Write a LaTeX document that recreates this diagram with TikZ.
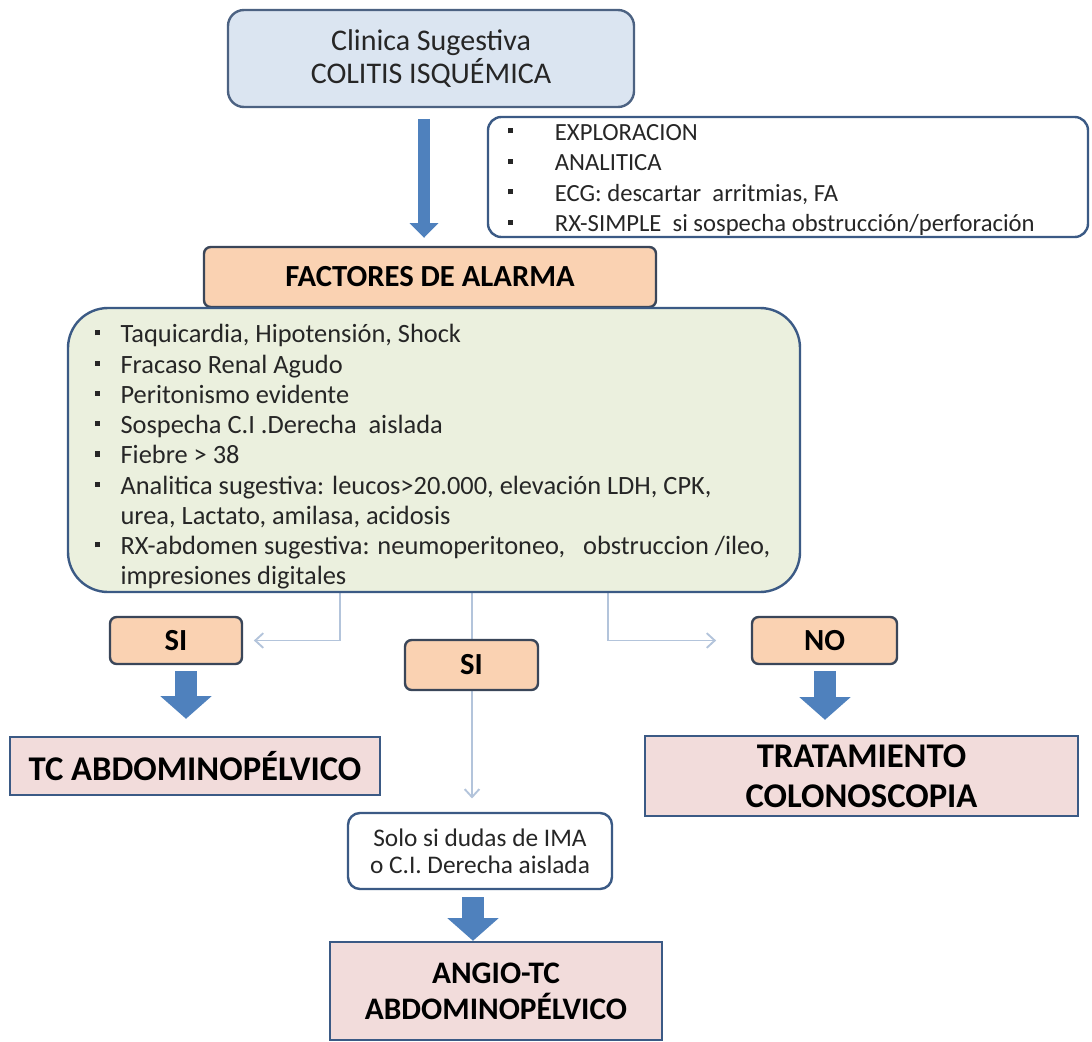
\documentclass[tikz,border=0pt]{standalone}
\usepackage{fontspec}
\setmainfont{Carlito}
\usetikzlibrary{arrows.meta}
\definecolor{titlefill}{HTML}{DBE5F1}
\definecolor{titleborder}{HTML}{4C6282}
\definecolor{orangefill}{HTML}{FAD2B2}
\definecolor{orangeborder}{HTML}{3A4659}
\definecolor{greenfill}{HTML}{EBF0DE}
\definecolor{pinkfill}{HTML}{F2DCDB}
\definecolor{darkborder}{HTML}{3B5A85}
\definecolor{bluearrow}{HTML}{4F81BD}
\definecolor{thinline}{HTML}{B3C4DB}
\definecolor{textgray}{HTML}{262626}
\pgfdeclarelayer{paper}
\pgfdeclarelayer{bg}
\pgfsetlayers{paper,bg,main}
\newcommand{\sqb}{\raisebox{0.28em}{\rule{3.8pt}{3.8pt}}}
\newcommand{\bitem}[2]{\makebox[#1][l]{\sqb}#2}
\tikzset{
  roundbox/.style={draw=darkborder, line width=1.8pt, rounded corners=#1, inner sep=0pt},
  orangebox/.style={draw=orangeborder, fill=orangefill, line width=1.8pt, rounded corners=5pt, inner sep=0pt,
     font=\fontsize{23pt}{27pt}\selectfont\bfseries, text=black},
  pinkbox/.style={draw=darkborder, fill=pinkfill, line width=1.8pt, inner sep=0pt, align=center,
     font=\fontsize{26pt}{30pt}\selectfont\bfseries, text=black},
  thinconn/.style={draw=thinline, line width=1.4pt, -{Straight Barb[length=6pt,width=11pt,line width=1.4pt]}},
  bigarrow/.style={draw=bluearrow, line width=16.5pt, -{Triangle[width=37.5pt,length=17pt]}},
  slimarrow/.style={draw=bluearrow, line width=9pt, -{Triangle[width=21pt,length=11pt]}},
  txt/.style={inner sep=0pt, align=left, text=textgray}
}
\begin{document}
\begin{tikzpicture}[x=0.75pt,y=-0.75pt]
\useasboundingbox (0,0) rectangle (1092,1042);
\begin{pgfonlayer}{paper}
\fill[white] (0,0) rectangle (1092,1042);
\end{pgfonlayer}

% title
\node[roundbox=12pt, draw=titleborder, fill=titlefill, minimum width=304.5pt, minimum height=72.75pt,
  align=center, text=textgray, font=\fontsize{22.5pt}{25pt}\selectfont] (top) at (431,58.5)
  {Clinica Sugestiva\\COLITIS ISQUÉMICA};

% right info box
\node[roundbox=10pt, draw=darkborder, fill=white, minimum width=450pt, minimum height=90pt] (info) at (788,177) {};
\node[txt, anchor=west, font=\fontsize{18.5pt}{22.9pt}\selectfont] (infotext) at (508,180)
  {\bitem{35pt}{EXPLORACION}\\
   \bitem{35pt}{ANALITICA}\\
   \bitem{35pt}{ECG: descartar\ \ arritmias, FA}\\
   \bitem{35pt}{RX-SIMPLE\ \ si sospecha obstrucción/perforación}};

% factores
\node[orangebox, minimum width=339pt, minimum height=45pt] (fact) at (430,277) {FACTORES DE ALARMA};

% green box
\node[roundbox=30pt, fill=greenfill, minimum width=549pt, minimum height=213pt] (green) at (434,450) {};
\node[txt, anchor=west, font=\fontsize{19.8pt}{22.7pt}\selectfont] (greentext) at (95,457)
  {\bitem{19pt}{Taquicardia, Hipotensión, Shock}\\
   \bitem{19pt}{Fracaso Renal Agudo}\\
   \bitem{19pt}{Peritonismo\ evidente}\\
   \bitem{19pt}{Sospecha C.I .Derecha\ \ aislada}\\
   \bitem{19pt}{Fiebre > 38}\\
   \bitem{19pt}{Analitica sugestiva: leucos>20.000, elevación LDH, CPK,}\\
   \makebox[19pt]{}urea, Lactato, amilasa, acidosis\\
   \bitem{19pt}{RX-abdomen sugestiva: neumoperitoneo,\ \ \ obstruccion /ileo,}\\
   \makebox[19pt]{}impresiones digitales};

% decision boxes
\node[orangebox, font=\fontsize{23pt}{27pt}\selectfont\bfseries, minimum width=99pt, minimum height=35.25pt] (si1) at (176,640.5) {SI};
\node[orangebox, font=\fontsize{23pt}{27pt}\selectfont\bfseries, minimum width=99.75pt, minimum height=37.5pt] (si2) at (471.5,665) {SI};
\node[orangebox, font=\fontsize{23pt}{27pt}\selectfont\bfseries, minimum width=108.75pt, minimum height=35.25pt] (no) at (824.5,640.5) {NO};

% results
\node[pinkbox, minimum width=277.5pt, minimum height=43.5pt] (tc) at (195,766) {TC ABDOMINOPÉLVICO};
\node[pinkbox, minimum width=324.75pt, minimum height=60pt] (trat) at (861.5,776) {TRATAMIENTO\\COLONOSCOPIA};
\node[roundbox=9pt, fill=white, minimum width=198pt, minimum height=57pt, align=center, text=textgray,
  font=\fontsize{19pt}{20pt}\selectfont] (solo) at (480,851) {Solo\ si dudas de IMA\\o C.I. Derecha aislada};
\node[pinkbox, font=\fontsize{23.5pt}{27pt}\selectfont\bfseries, minimum width=249pt, minimum height=73.5pt] (angio) at (496,991) {ANGIO-TC\\ABDOMINOPÉLVICO};

% axis coordinates
\coordinate (xa) at (424,0);
\coordinate (xl) at (340,0);
\coordinate (xm) at (472,0);
\coordinate (xr) at (608,0);
\coordinate (x1) at (186,0);
\coordinate (x2) at (825,0);
\coordinate (x3) at (473,0);

% thin connectors (behind boxes)
\begin{pgfonlayer}{bg}
\draw[thinconn, shorten >=8pt] (green.south -| xl) |- (si1.east);
\draw[thinconn, shorten >=10pt] (green.south -| xm) -- (solo.north -| xm);
\draw[thinconn, shorten >=26pt] (green.south -| xr) |- (no.west);
\end{pgfonlayer}

% blue block arrows
\draw[slimarrow, shorten <=8pt, shorten >=6pt] (top.south -| xa) -- (fact.north -| xa);
\draw[bigarrow, shorten <=4.5pt, shorten >=12.75pt] (si1.south -| x1) -- (tc.north -| x1);
\draw[bigarrow, shorten <=4.5pt, shorten >=11.25pt] (no.south -| x2) -- (trat.north -| x2);
\draw[bigarrow, shorten <=5.25pt, shorten >=0pt] (solo.south -| x3) -- (angio.north -| x3);
\end{tikzpicture}
\end{document}
